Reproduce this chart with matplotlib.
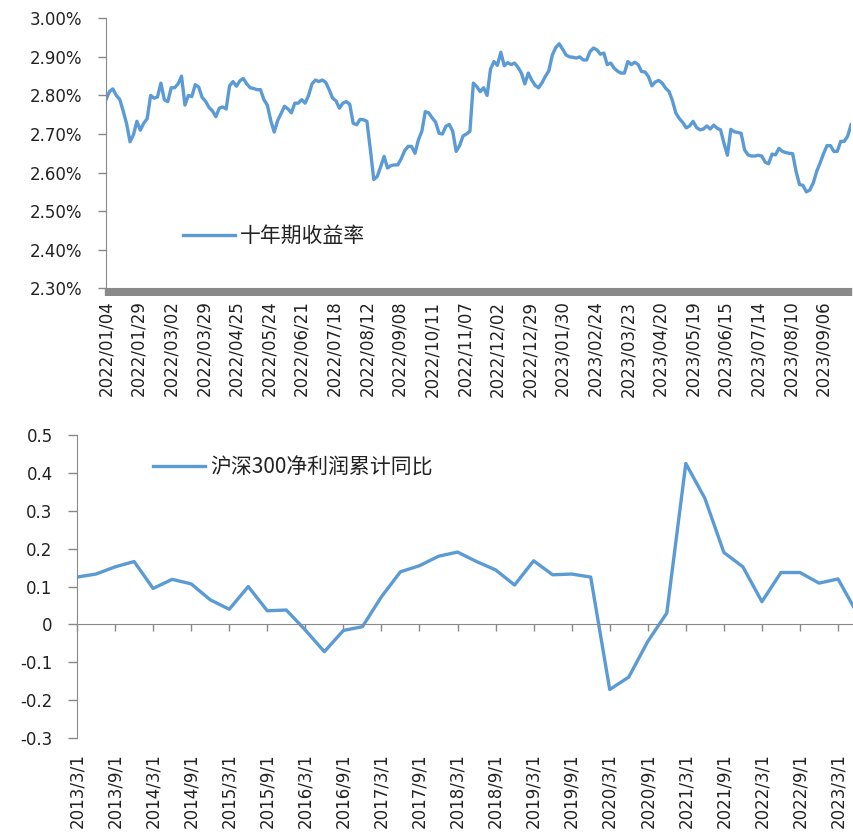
import numpy as np
import matplotlib.pyplot as plt

plt.rcParams['font.family'] = ['DejaVu Sans', 'Noto Sans CJK SC']

blue = '#5B9BD5'
grey = '#898989'
text_col = '#222222'
cjk = {'family': ['Noto Sans CJK SC', 'DejaVu Sans'], 'size': 15}

# 10y government bond yield (%), every 2nd trading day from 2022/01/04 to 2023/09/28
yield_10y = [
    2.789, 2.81, 2.817, 2.80, 2.79, 2.76, 2.727, 2.68, 2.698, 2.733,
    2.71, 2.728, 2.74, 2.80, 2.793, 2.796, 2.832, 2.789, 2.784, 2.82,
    2.82, 2.83, 2.85, 2.775, 2.80, 2.797, 2.828, 2.822, 2.795, 2.785,
    2.769, 2.76, 2.745, 2.767, 2.77, 2.765, 2.825, 2.836, 2.824, 2.838,
    2.844, 2.83, 2.82, 2.818, 2.815, 2.815, 2.789, 2.775, 2.735, 2.705,
    2.735, 2.753, 2.772, 2.765, 2.755, 2.78, 2.78,
    2.789, 2.78, 2.80, 2.83, 2.84, 2.836, 2.84, 2.834, 2.815, 2.793,
    2.786, 2.767, 2.78, 2.784, 2.777, 2.728, 2.724, 2.738, 2.737, 2.733,
    2.66, 2.582, 2.59, 2.615, 2.642, 2.612, 2.618, 2.62, 2.62, 2.636,
    2.657, 2.668, 2.668, 2.65, 2.685, 2.707, 2.758, 2.755, 2.742, 2.731,
    2.702, 2.70, 2.72, 2.725, 2.707, 2.655, 2.67, 2.695, 2.70, 2.707,
    2.832, 2.823, 2.81, 2.82, 2.80, 2.868, 2.888, 2.878, 2.912, 2.877,
    2.885, 2.88, 2.884, 2.873, 2.858, 2.83, 2.858, 2.84, 2.826, 2.82,
    2.833, 2.85, 2.864, 2.905, 2.924, 2.934, 2.92, 2.905, 2.90, 2.899,
    2.897, 2.90,
    2.892, 2.892, 2.914, 2.923, 2.918, 2.907, 2.91, 2.88, 2.884, 2.871,
    2.863, 2.858, 2.858, 2.888, 2.88, 2.886, 2.88, 2.862, 2.861, 2.849,
    2.825, 2.835, 2.839, 2.832, 2.819, 2.81, 2.786, 2.754, 2.74, 2.73,
    2.716, 2.721, 2.733, 2.717, 2.711, 2.713, 2.721, 2.713, 2.723, 2.715,
    2.711, 2.676, 2.645, 2.712, 2.706, 2.704, 2.702, 2.659, 2.646, 2.643,
    2.643, 2.645, 2.643, 2.627, 2.623, 2.648, 2.646, 2.663, 2.655, 2.652,
    2.65, 2.649, 2.603, 2.569, 2.567, 2.55, 2.555, 2.573, 2.603, 2.625,
    2.649, 2.67, 2.67, 2.655, 2.655, 2.681, 2.681, 2.694, 2.724,
]
n_days = 435
label_step = 19
yield_dates = [
    '2022/01/04', '2022/01/29', '2022/03/02', '2022/03/29', '2022/04/25',
    '2022/05/24', '2022/06/21', '2022/07/18', '2022/08/12', '2022/09/08',
    '2022/10/11', '2022/11/07', '2022/12/02', '2022/12/29', '2023/01/30',
    '2023/02/24', '2023/03/23', '2023/04/20', '2023/05/19', '2023/06/15',
    '2023/07/14', '2023/08/10', '2023/09/06',
]

# CSI 300 cumulative net profit yoy, quarterly 2013/3/1 - 2023/6/1
profit_yoy = [
    0.125, 0.133, 0.152, 0.166, 0.095, 0.119, 0.107, 0.065, 0.04, 0.10,
    0.036, 0.038, -0.015, -0.072, -0.016, -0.006, 0.073, 0.139, 0.155, 0.18,
    0.191, 0.166, 0.144, 0.104, 0.168, 0.131, 0.133, 0.125, -0.172, -0.139,
    -0.045, 0.03, 0.425, 0.333, 0.19, 0.152, 0.06, 0.137, 0.137, 0.109,
    0.12, 0.03,
]
quarters = [f'{y}/{m}/1' for y in range(2013, 2024) for m in (3, 6, 9, 12)][:len(profit_yoy)]
profit_ticks = [-0.3, -0.2, -0.1, 0, 0.1, 0.2, 0.3, 0.4, 0.5]
profit_ticklabels = ['-0.3', '-0.2', '-0.1', '0', '0.1', '0.2', '0.3', '0.4', '0.5']

fig = plt.figure(figsize=(8.54, 8.36), dpi=100)

# ---- top: 10y yield
ax1 = fig.add_axes([0.1241, 0.6551, 0.8724, 0.3230])
ax1.plot(np.arange(0, n_days, 2), yield_10y, color=blue, lw=2.4, label='十年期收益率')
ax1.set_xlim(0, n_days - 1)
ax1.set_ylim(2.30, 3.00)
yt = np.arange(2.30, 3.001, 0.10)
ax1.set_yticks(yt, [f'{v:.2f}%' for v in yt])
ax1.set_xticks(np.arange(0, n_days, label_step), yield_dates, rotation=90)
ax1.set_xticks(np.arange(n_days), minor=True)
ax1.tick_params(axis='x', which='both', length=5.8, width=1.7, color=grey,
                pad=3, labelsize=12, labelcolor=text_col)
ax1.tick_params(axis='y', length=5.8, width=1, color=grey, pad=11,
                labelsize=12, labelcolor=text_col)
for s in ['top', 'right']:
    ax1.spines[s].set_visible(False)
for s in ['left', 'bottom']:
    ax1.spines[s].set_color(grey)
ax1.legend(loc='center left', bbox_to_anchor=(0.103, 0.194), frameon=False,
           borderpad=0, borderaxespad=0, handlelength=2.5, handletextpad=0.25,
           prop=cjk, labelcolor=text_col)

# ---- bottom: CSI 300 profit growth
ax2 = fig.add_axes([0.0902, 0.1172, 0.9098, 0.3624])
ax2.plot(np.arange(len(profit_yoy)), profit_yoy, color=blue, lw=2.4,
         label='沪深300净利润累计同比')
ax2.set_xlim(0, 40.84)
ax2.set_ylim(-0.3, 0.5)
ax2.set_yticks(profit_ticks, profit_ticklabels)
ax2.spines['bottom'].set_position(('data', 0))
for s in ['top', 'right']:
    ax2.spines[s].set_visible(False)
for s in ['left', 'bottom']:
    ax2.spines[s].set_color(grey)
ax2.set_xticks(np.arange(0, len(profit_yoy), 2))
ax2.tick_params(axis='x', length=5, width=1, color=grey, labelbottom=False)
ax2.tick_params(axis='y', length=6.5, width=1, color=grey, pad=11,
                labelsize=12, labelcolor=text_col)

sec = ax2.secondary_xaxis('bottom')
sec.spines['bottom'].set_visible(False)
sec.set_xticks(np.arange(0, len(profit_yoy), 2), quarters[::2], rotation=90)
sec.tick_params(axis='x', length=0, pad=11, labelsize=12, labelcolor=text_col)

ax2.legend(loc='center left', bbox_to_anchor=(0.098, 0.894), frameon=False,
           borderpad=0, borderaxespad=0, handlelength=2.5, handletextpad=0.25,
           prop=cjk, labelcolor=text_col)

fig.savefig('out.png', dpi=100)
